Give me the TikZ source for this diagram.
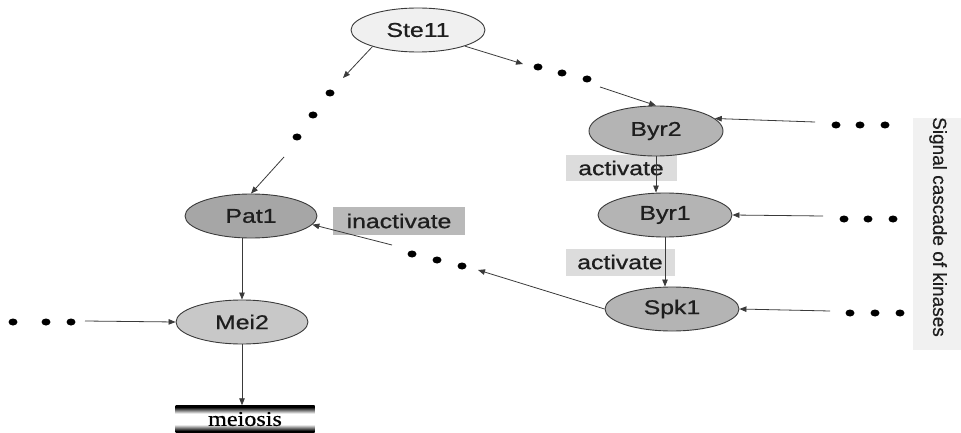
\documentclass[tikz,border=0pt]{standalone}
\usepackage{fontspec}
\usepackage{graphicx}
\setmainfont{Liberation Sans}
\newfontfamily\sigfont{Liberation Sans}
\newfontfamily\meiofont{Liberation Serif}
\newcommand{\wtxt}[1]{\scalebox{1.24}[1]{\addfontfeature{FakeBold=0.7}#1}}
\usetikzlibrary{shapes.geometric,arrows.meta}
\definecolor{linec}{HTML}{3A3A3A}
\definecolor{txtc}{HTML}{1E1E1E}
\definecolor{steFill}{HTML}{F0F0F0}
\definecolor{kinFill}{HTML}{B4B4B4}
\definecolor{patFill}{HTML}{A6A6A6}
\definecolor{meiFill}{HTML}{C8C8C8}
\definecolor{actFill}{HTML}{DCDCDC}
\definecolor{inactFill}{HTML}{B9B9B9}
\definecolor{sigFill}{HTML}{F1F1F1}
\pgfdeclareverticalshading{meioshade}{100bp}{color(0bp)=(black); color(25bp)=(black); color(28bp)=(black); color(40bp)=(white); color(60bp)=(white); color(72bp)=(black); color(75bp)=(black); color(100bp)=(black)}
\tikzset{
  prot/.style={ellipse, draw=linec, line width=0.9pt, minimum width=134pt, minimum height=44pt, inner sep=0pt, text=txtc, font=\fontsize{20}{20}\selectfont},
  lbl/.style={rectangle, inner sep=0pt, text=txtc, font=\fontsize{20}{20}\selectfont},
  dot/.style={ellipse, fill=black, inner sep=0pt, minimum width=9pt, minimum height=7pt},
  arr/.style={draw=linec, line width=0.8pt, -{Triangle[length=7pt,width=5.5pt]}},
}
\begin{document}
\begin{tikzpicture}[x=1pt,y=-1pt]
\useasboundingbox (0,0) rectangle (961,433);
% side label
\node[rectangle, fill=sigFill, minimum width=48pt, minimum height=232pt, inner sep=0pt] (sigbox) at (937,234) {};
\node[rotate=-90, inner sep=0pt, text=txtc, font=\sigfont\fontsize{19}{19}\selectfont] (sigtext) at (938,227) {\addfontfeature{FakeBold=0.4}Signal cascade of kinases};
% labels
\node[lbl, fill=actFill, minimum width=111pt, minimum height=26pt] (act1) at (621,168) {\wtxt{activate}};
\node[lbl, fill=actFill, minimum width=109pt, minimum height=27pt] (act2) at (620,262) {\wtxt{activate}};
\node[lbl, fill=inactFill, minimum width=132pt, minimum height=28pt] (inact) at (399,221) {\wtxt{inactivate}};
% proteins
\node[prot, fill=steFill] (ste) at (418,30) {\wtxt{Ste11}};
\node[prot, fill=kinFill, minimum height=50pt] (byr2) at (656,131) {\wtxt{Byr2}};
\node[prot, fill=kinFill] (byr1) at (665,215) {\wtxt{Byr1}};
\node[prot, fill=kinFill] (spk1) at (672,309) {\wtxt{Spk1}};
\node[prot, fill=patFill, minimum width=132pt] (pat1) at (251,216) {\wtxt{Pat1}};
\node[prot, fill=meiFill, minimum width=132pt] (mei2) at (242,322) {\wtxt{Mei2}};
\node[rectangle, shading=meioshade, minimum width=139pt, minimum height=27pt, inner sep=0pt, font=\meiofont\fontsize{21}{21}\selectfont] (meio) at (245,419) {\scalebox{1.15}[1]{\addfontfeature{FakeBold=0.5}meiosis}};
% dots
\node[dot] (l1) at (330,93) {};
\node[dot] (l2) at (313,115) {};
\node[dot] (l3) at (297,137) {};
\node[dot] (u1) at (538,67) {};
\node[dot] (u2) at (562,73) {};
\node[dot] (u3) at (587,79) {};
\node[dot] (s1) at (462,266) {};
\node[dot] (s2) at (437,260) {};
\node[dot] (s3) at (412,254) {};
\node[dot] (b21) at (836,125) {};
\node[dot] (b22) at (860,125) {};
\node[dot] (b23) at (885,125) {};
\node[dot] (b11) at (844,219) {};
\node[dot] (b12) at (868,219) {};
\node[dot] (b13) at (893,219) {};
\node[dot] (sp1) at (850,313) {};
\node[dot] (sp2) at (875,313) {};
\node[dot] (sp3) at (900,313) {};
\node[dot] (m1) at (13,322) {};
\node[dot] (m2) at (46,322) {};
\node[dot] (m3) at (71,322) {};
% free ends
\coordinate (la) at (343,78);
\coordinate (lb) at (284,157);
\coordinate (ua) at (523,64);
\coordinate (ub) at (600,87);
\coordinate (sa) at (478,270);
\coordinate (sb) at (392,245);
\coordinate (rb2) at (815,122);
\coordinate (rb1) at (823,216);
\coordinate (rsp) at (830,311);
\coordinate (lm) at (85,321);
% connectors
\draw[arr] (ste.200) -- (la);
\draw[arr] (lb) -- (pat1.north);
\draw[arr] (ste.-19) -- (ua);
\draw[arr] (ub) -- (byr2.north);
\draw[arr] (rb2) -- (byr2.12);
\draw[arr] (rb1) -- (byr1.east);
\draw[arr] (rsp) -- (spk1.east);
\draw[arr] (lm) -- (mei2.west);
\draw[arr] (byr2.south) -- (byr2.south |- byr1.north);
\draw[arr] (byr1.south) -- (byr1.south |- spk1.north);
\draw[arr] (mei2.north |- pat1.south) -- (mei2.north);
\draw[arr] (mei2.south) -- (mei2.south |- meio.north);
\draw[arr] (spk1.west) -- (sa);
\draw[arr] (sb) -- (pat1.-8);
\end{tikzpicture}
\end{document}
